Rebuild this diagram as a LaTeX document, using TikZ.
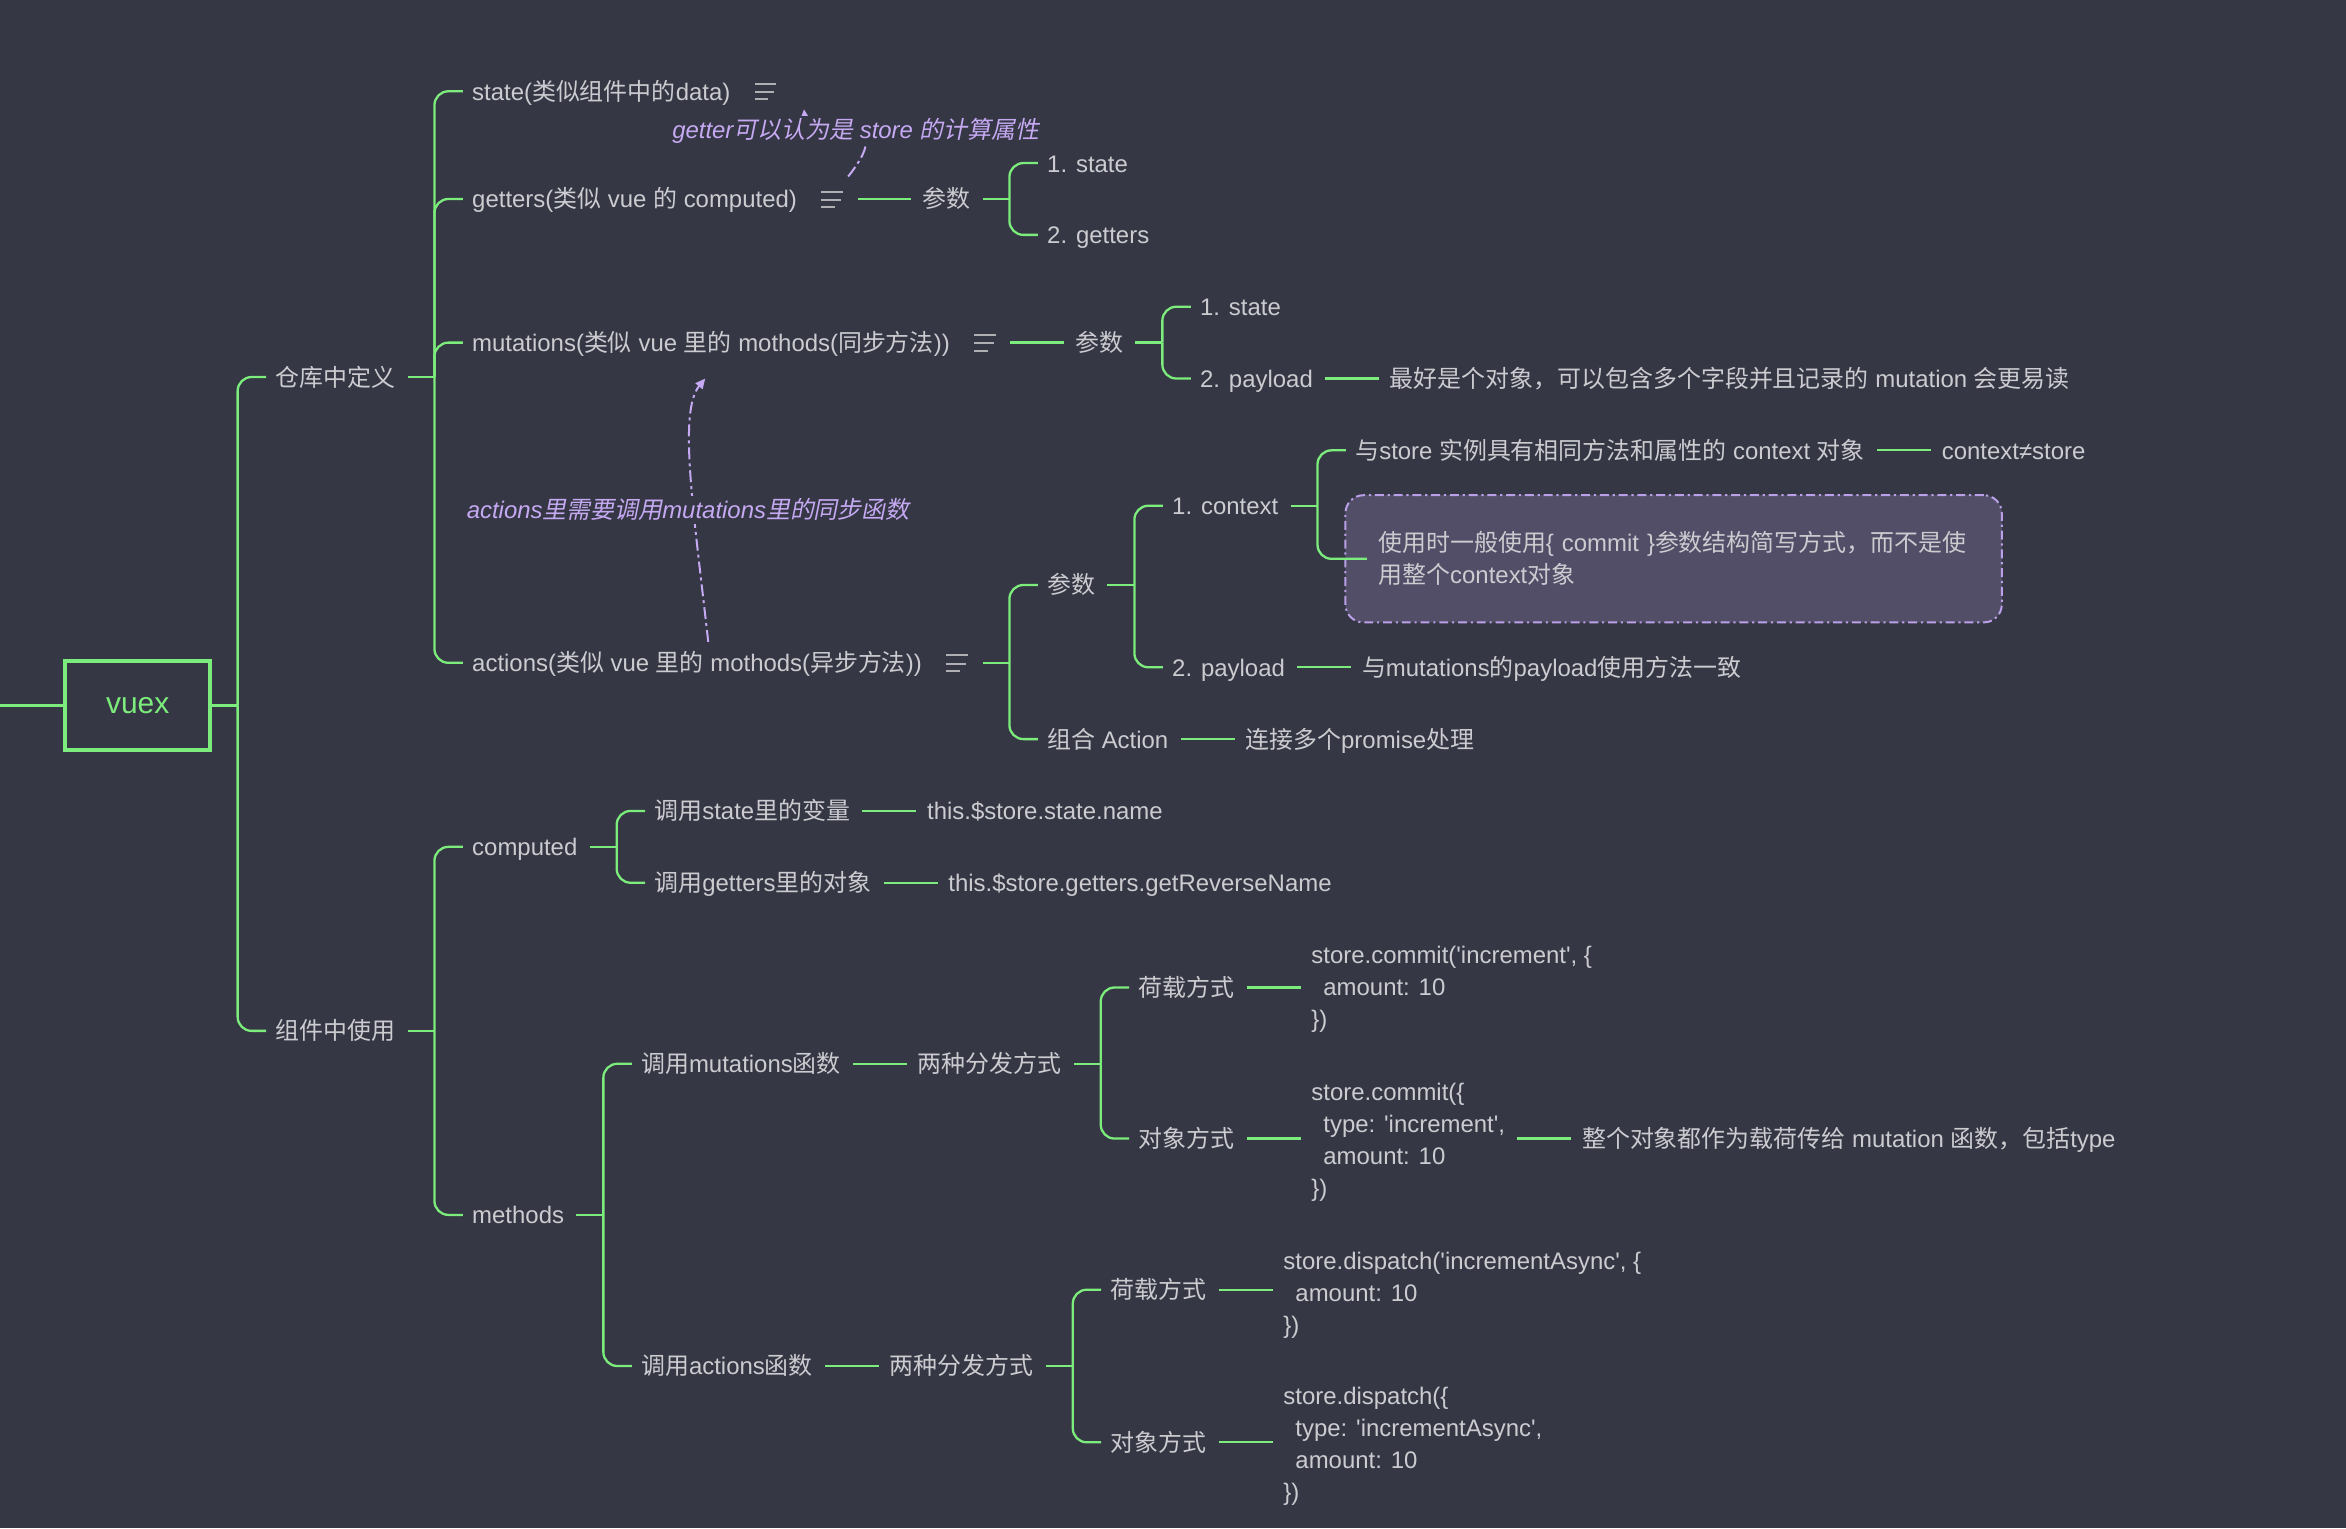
\documentclass[tikz,border=0pt]{standalone}
\usepackage{fontspec}
\usetikzlibrary{calc,arrows.meta}
\setmainfont{Liberation Sans}
\newfontfamily\codef{Liberation Sans}
\newfontfamily\cjkf{Noto Sans CJK SC}[AutoFakeSlant=0.2]
\newcount\cjkcnt
\newXeTeXintercharclass\cjkcls
\XeTeXinterchartokenstate=1
\def\setcjkrange#1#2{\cjkcnt=#1\relax
  \loop\ifnum\cjkcnt<#2\relax
    \XeTeXcharclass\cjkcnt=\cjkcls
    \advance\cjkcnt by 1
  \repeat}
\setcjkrange{"3000}{"3040}
\setcjkrange{"4E00}{"A000}
\setcjkrange{"FF00}{"FFF0}
\XeTeXinterchartoks 0 \cjkcls = {\cjkf}
\XeTeXinterchartoks 4095 \cjkcls = {\cjkf}
\XeTeXinterchartoks \cjkcls 0 = {\rmfamily}
\XeTeXinterchartoks \cjkcls 4095 = {\rmfamily}

\definecolor{bgc}{HTML}{353744}
\definecolor{gc}{HTML}{7CEC7C}
\definecolor{tc}{HTML}{CBCBD0}
\definecolor{pc}{HTML}{C5A9F2}
\definecolor{pbc}{HTML}{B9A0E8}
\definecolor{boxc}{HTML}{524E67}
\definecolor{ic}{HTML}{B0B0B4}

\newcommand\kid[5][txt]{\node[#1] (#2) at ($(#3.east |- 0,#4)+(51,0)$) {#5};}
\newcommand\noteicon[2]{\node[iconbox] (#1) at ($(#2.east)+(23.5,0)$) {};
  \draw[iconl] ($(#1.center)+(-7.5,-5)$) -- ++(14.5,0);
  \draw[iconl] ($(#1.center)+(-7.5,0.5)$) -- ++(13,0);
  \draw[iconl] ($(#1.center)+(-7.5,5.5)$) -- ++(9,0);}
\newcommand\stubl[1]{\draw[conn] ($(#1.east)+(8,0)$) -- ($(#1.east)+(26,0)$);}
\newcommand\brn[2]{\draw[conn] ($(#1.east)+(26,0)$) |- ($(#2.west)+(-6,0)$);}
\newcommand\lnk[2]{\draw[conn] ($(#1.east)+(8,0)$) -- ($(#2.west |- #1.east)+(-7,0)$);}

\begin{document}
\begin{tikzpicture}[x=0.75pt,y={(0pt,-0.75pt)},
  txt/.style={anchor=west,inner sep=0pt,text=tc,font=\fontsize{12}{16}\selectfont,text height=9pt,text depth=0pt},
  codeblk/.style={anchor=west,inner sep=0pt,text=tc,font=\fontsize{12}{16}\selectfont\codef,align=left},
  anno/.style={inner xsep=1pt,inner ysep=2pt,fill=bgc,text=pc,font=\fontsize{12}{16}\selectfont\itshape,text height=9pt,text depth=1pt},
  conn/.style={draw=gc,line width=1.15pt,rounded corners=7pt},
  iconbox/.style={minimum width=12.75pt,minimum height=12pt,inner sep=0pt},
  iconl/.style={draw=ic,line width=1pt},
  annol/.style={draw=pc,line width=1pt,dash pattern=on 6pt off 2pt on 1.5pt off 2pt,-{Triangle[length=5pt,width=4.5pt]}},
  ctxbox/.style={anchor=west,draw=pbc,fill=boxc,line width=1pt,dash pattern=on 4.5pt off 1.9pt on 1.1pt off 1.9pt,rounded corners=9pt,text=tc,font=\fontsize{12}{16}\selectfont,align=left,text width=296pt,inner xsep=16.5pt,minimum height=63.75pt}
]
\useasboundingbox (0,0) rectangle (1568,1021.3);
\fill[bgc] (0,0) rectangle (1568,1021.3);

% root
\coordinate (lft) at (0,471.5);
\node[draw=gc,line width=2pt,minimum width=72.75pt,minimum height=44.25pt,inner sep=0pt,text=gc,font=\fontsize{15}{18}\selectfont] (vuex) at (92,471.5) {vuex};
\node[txt] (ck) at ($(vuex.east |- 0,252)+(42,0)$) {仓库中定义};
\node[txt] (zj) at ($(vuex.east |- 0,689)+(42,0)$) {组件中使用};

% store definition
\kid{st}{ck}{61}{state(类似组件中的data)}
\kid{gt}{ck}{133}{getters(类似 vue 的 computed)}
\kid{mu}{ck}{229}{mutations(类似 vue 里的 mothods(同步方法))}
\kid{ac}{ck}{443}{actions(类似 vue 里的 mothods(异步方法))}
\noteicon{stI}{st}
\noteicon{gtI}{gt}
\noteicon{muI}{mu}
\noteicon{acI}{ac}

\kid{gp}{gtI}{133}{参数}
\kid{gs1}{gp}{109}{1. state}
\kid{gs2}{gp}{157}{2. getters}

\kid{mp}{muI}{229}{参数}
\kid{ms1}{mp}{205}{1. state}
\kid{ms2}{mp}{253}{2. payload}
\kid{ms2n}{ms2}{253}{最好是个对象，可以包含多个字段并且记录的 mutation 会更易读}

\kid{ap}{acI}{391}{参数}
\kid{acomb}{acI}{494}{组合 Action}
\kid{actx}{ap}{338}{1. context}
\kid{apay}{ap}{446}{2. payload}
\kid{actx1}{actx}{301}{与store 实例具有相同方法和属性的 context 对象}
\node[ctxbox] (cbox) at ($(actx.east |- 0,373.5)+(44,0)$) {使用时一般使用\{ commit \}参数结构简写方式，而不是使\\用整个context对象};
\kid{actx2}{actx1}{301}{context≠store}
\kid{apayn}{apay}{446}{与mutations的payload使用方法一致}
\kid{acombn}{acomb}{494}{连接多个promise处理}

% usage in components
\kid{comp}{zj}{566}{computed}
\kid{meth}{zj}{812}{methods}
\kid{cs}{comp}{542}{调用state里的变量}
\kid{cg}{comp}{590}{调用getters里的对象}
\kid{csn}{cs}{542}{this.\$store.state.name}
\kid{cgn}{cg}{590}{this.\$store.getters.getReverseName}
\kid{mm}{meth}{711}{调用mutations函数}
\kid{ma}{meth}{913}{调用actions函数}
\kid{mm2}{mm}{711}{两种分发方式}
\kid{mmh}{mm2}{660}{荷载方式}
\kid{mmd}{mm2}{761}{对象方式}
\kid[codeblk]{mmhc}{mmh}{661.5}{store.commit('increment', \{\\\hspace*{6pt}amount: 10\\\})}
\kid[codeblk]{mmdc}{mmd}{763.5}{store.commit(\{\\\hspace*{6pt}type: 'increment',\\\hspace*{6pt}amount: 10\\\})}
\kid{mmdn}{mmdc}{761}{整个对象都作为载荷传给 mutation 函数，包括type}
\kid{ma2}{ma}{913}{两种分发方式}
\kid{mah}{ma2}{862}{荷载方式}
\kid{mad}{ma2}{964}{对象方式}
\kid[codeblk]{mahc}{mah}{865.5}{store.dispatch('incrementAsync', \{\\\hspace*{6pt}amount: 10\\\})}
\kid[codeblk]{madc}{mad}{966.5}{store.dispatch(\{\\\hspace*{6pt}type: 'incrementAsync',\\\hspace*{6pt}amount: 10\\\})}

% annotations
\draw[annol] ($(gtI.center)+(10.5,-15)$) .. controls ($(gtI.center)+(48.5,-63)$) and ($(stI.center)+(27.5,34)$) .. ($(stI.center)+(25.5,12)$);
\node[anno] (getnote) at (572,87) {getter可以认为是 store 的计算属性};
\draw[annol] ($(ac.west)+(158,-14)$) .. controls ($(ac.west)+(148,-103)$) and ($(mu.west)+(138,46)$) .. ($(mu.west)+(156,24)$);
\node[anno] (actnote) at (460,341) {actions里需要调用mutations里的同步函数};

% connectors
\draw[conn] (lft) -- (vuex.west);
\draw[conn] (vuex.east) -- ($(vuex.east)+(17,0)$);
\draw[conn] ($(vuex.east)+(17,0)$) |- ($(ck.west)+(-6,0)$);
\draw[conn] ($(vuex.east)+(17,0)$) |- ($(zj.west)+(-6,0)$);

\stubl{ck} \brn{ck}{st} \brn{ck}{gt} \brn{ck}{mu} \brn{ck}{ac}
\lnk{gtI}{gp}
\stubl{gp} \brn{gp}{gs1} \brn{gp}{gs2}
\lnk{muI}{mp}
\stubl{mp} \brn{mp}{ms1} \brn{mp}{ms2}
\lnk{ms2}{ms2n}
\stubl{acI} \brn{acI}{ap} \brn{acI}{acomb}
\stubl{ap} \brn{ap}{actx} \brn{ap}{apay}
\stubl{actx} \brn{actx}{actx1}
\draw[conn] ($(actx.east)+(26,0)$) |- ($(cbox.west)+(15,0)$);
\lnk{actx1}{actx2}
\lnk{apay}{apayn}
\lnk{acomb}{acombn}

\stubl{zj} \brn{zj}{comp} \brn{zj}{meth}
\stubl{comp} \brn{comp}{cs} \brn{comp}{cg}
\lnk{cs}{csn}
\lnk{cg}{cgn}
\stubl{meth} \brn{meth}{mm} \brn{meth}{ma}
\lnk{mm}{mm2}
\stubl{mm2} \brn{mm2}{mmh} \brn{mm2}{mmd}
\lnk{mmh}{mmhc}
\lnk{mmd}{mmdc}
\draw[conn] ($(mmdc.east |- mmdn.west)+(8,0)$) -- ($(mmdn.west)+(-7,0)$);
\lnk{ma}{ma2}
\stubl{ma2} \brn{ma2}{mah} \brn{ma2}{mad}
\lnk{mah}{mahc}
\lnk{mad}{madc}
\end{tikzpicture}
\end{document}
